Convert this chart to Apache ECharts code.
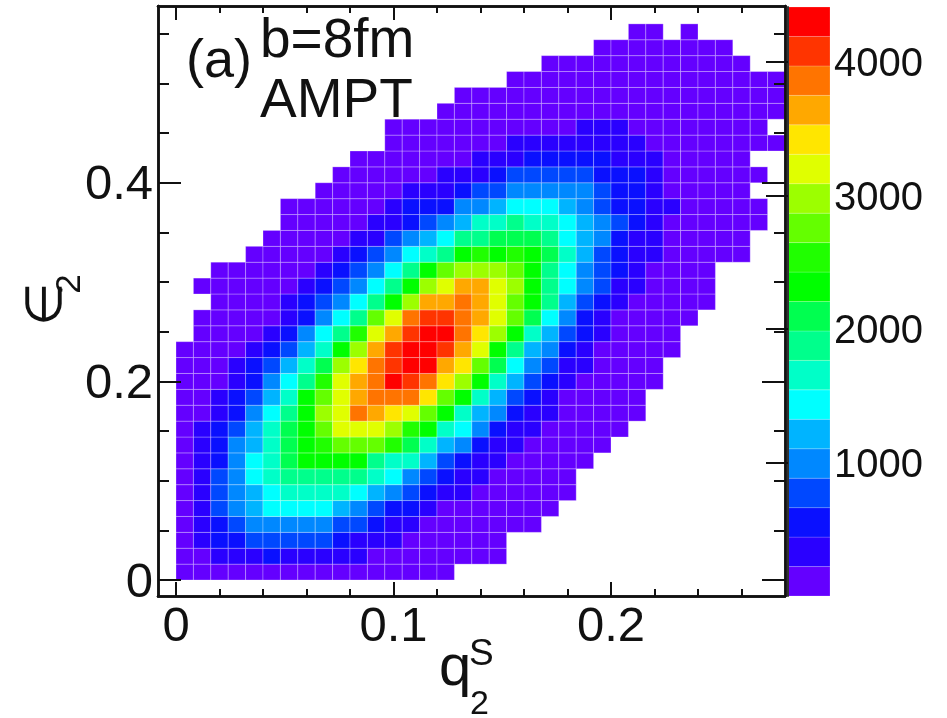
<!DOCTYPE html>
<html>
<head>
<meta charset="utf-8">
<title>AMPT b=8fm</title>
<script src="https://cdn.jsdelivr.net/npm/echarts@6/dist/echarts.min.js"></script>
<style>
    html, body { margin: 0; padding: 0; background: #fff; }
    #chart { width: 947px; height: 718px; filter: blur(0.5px); }
</style>
</head>
<body>
<div id="chart"></div>
<script>
// bins: 35 x 35 on q2S 0..0.28, e2 0..0.56
var binWidth = 0.008;
var binHeight = 0.016;
var levelStep = 220.7;

// colour palette, lowest count first
var levelColors = ['#6400ff', '#2a00ff', '#0a10ff', '#0048ff', '#0088ff', '#00b4ff', '#00ffff',
    '#00ffc8', '#00ff8c', '#00ff50', '#00ff00', '#20ff00', '#64ff00', '#9cff00', '#e0ff00',
    '#ffe600', '#ffa800', '#ff7400', '#ff3400', '#ff0000'];

// first filled column of every row, bottom row first
var rowStart = [0, 0, 0, 0, 0, 0, 0, 0, 0, 0, 0, 0, 0, 0, 0, 1, 1, 2, 1, 2, 4, 5, 6, 6, 8, 9, 10, 12, 12, 15, 16, 19, 21, 24, 26];

// colour level read for each cell, -1 is an empty bin
var rowLevels = [
    [0,0,0,0,0,0,0,0,0,0,0,0,0,0,0,0],
    [0,0,1,1,1,2,1,1,1,1,1,0,0,0,0,0,0,0,0],
    [0,1,2,2,3,3,3,3,3,2,1,1,1,0,0,0,0,0,0],
    [0,1,2,3,4,4,4,4,4,3,3,2,1,1,0,0,0,0,0,0,0],
    [0,1,3,4,5,6,6,6,6,5,4,3,2,2,1,0,0,0,0,0,0,0],
    [0,1,3,4,5,6,7,7,7,7,6,5,4,3,2,1,1,0,0,0,0,0,0],
    [0,1,3,4,6,7,8,8,8,8,8,7,6,4,3,2,1,1,0,0,0,0,0],
    [0,1,2,4,6,7,9,10,10,10,10,8,7,7,5,3,2,1,1,0,0,0,0,0],
    [0,1,2,4,5,7,9,10,11,12,12,12,11,9,7,5,4,2,1,1,0,0,0,0,0],
    [0,1,2,3,5,7,9,10,12,14,14,14,13,11,10,7,6,4,2,1,1,0,0,0,0,0],
    [0,0,1,2,4,6,8,10,13,14,17,16,15,14,12,10,7,5,4,2,1,1,0,0,0,0,0],
    [0,0,1,2,3,5,7,10,12,14,16,17,17,17,15,12,10,7,5,3,2,1,0,0,0,0,0],
    [0,0,0,1,2,4,6,8,11,14,16,17,19,18,17,15,13,10,7,5,3,2,1,0,0,0,0,0],
    [0,0,0,1,2,3,5,7,9,13,15,17,18,19,19,16,15,12,9,6,4,3,1,1,0,0,0,0],
    [0,0,0,0,1,2,3,5,7,10,13,16,18,19,19,18,16,14,10,8,5,4,2,1,0,0,0,0,0],
    [0,0,0,0,1,2,4,6,8,11,14,16,18,19,19,17,15,13,10,7,5,3,2,1,0,0,0,0],
    [0,0,0,0,0,1,2,4,6,8,12,14,17,18,18,17,16,14,12,9,6,4,2,1,0,0,0,0,0],
    [0,0,0,0,1,2,3,4,6,8,10,13,16,16,17,16,14,12,10,8,5,3,2,1,0,0,0,0,0],
    [0,0,0,0,0,0,1,2,3,4,6,8,10,13,14,16,16,14,13,10,8,6,4,3,1,1,0,0,0,0],
    [0,0,0,0,0,0,1,2,3,4,6,8,10,12,13,13,13,12,10,8,6,4,3,2,1,0,0,0,0],
    [0,0,0,0,0,1,2,3,4,6,7,8,10,11,10,11,10,9,7,5,3,2,1,1,0,0,0,0,0],
    [0,0,0,0,0,1,1,3,4,5,6,8,8,9,9,9,8,6,5,4,2,1,1,0,0,0,0,0],
    [0,0,0,0,0,1,1,2,3,4,5,7,7,8,7,7,6,5,4,3,2,1,0,0,0,0,0,0],
    [0,0,0,0,0,0,1,2,2,2,4,4,5,6,6,6,5,4,3,2,2,1,1,0,0,0,0,0],
    [0,0,0,0,0,1,1,1,2,3,3,4,4,4,4,4,3,2,2,1,0,0,0,0,0],
    [0,0,0,0,0,0,1,1,1,2,3,3,3,3,3,2,2,2,1,0,0,0,0,0,0],
    [0,0,0,0,0,0,0,1,1,1,2,2,2,2,2,1,1,1,0,0,0,0,0],
    [0,0,0,0,0,0,0,1,1,1,1,1,1,1,1,0,0,0,0,0,0,0,0],
    [0,0,0,0,0,0,0,0,0,0,0,1,1,1,0,0,0,0,0,0,0,0],
    [0,0,0,0,0,0,0,0,0,0,0,0,0,0,0,0,0,0,0,0],
    [0,0,0,0,0,0,0,0,0,0,0,0,0,0,0,0,0,0,0],
    [0,0,0,0,0,0,0,0,0,0,0,0,0,0,0,0],
    [0,0,0,0,0,0,0,0,0,0,0,0],
    [0,0,0,0,0,0,0,0],
    [0,0,-1,0]
];

// tick positions
var xMajorTicks = [0, 0.1, 0.2];
var xMinorTicks = [0.02, 0.04, 0.06, 0.08, 0.12, 0.14, 0.16, 0.18, 0.22, 0.24, 0.26];
var yMajorTicks = [0, 0.2, 0.4];
var yMinorTicks = [0.05, 0.1, 0.15, 0.25, 0.3, 0.35, 0.45, 0.5, 0.55];
var colorBarTicks = [1000, 2000, 3000, 4000];

var font = '"Liberation Sans", Arial, sans-serif';
var ink = '#111';

// cell data [x, y, count]
var cells = [];
rowLevels.forEach(function (levels, row) {
    levels.forEach(function (level, i) {
        if (level < 0) return;
        cells.push([(rowStart[row] + i) * binWidth, row * binHeight, (level + 0.5) * levelStep]);
    });
});

// colour bar data [x, low edge, middle]
var barCells = levelColors.map(function (color, i) {
    return [0, i * levelStep, (i + 0.5) * levelStep];
});

var pieces = levelColors.map(function (color, i) {
    return { min: i * levelStep, max: (i + 1) * levelStep, color: color };
});

function boxItem(params, api, x0, y0, x1, y1, line) {
    var a = api.coord([x0, y0]);
    var b = api.coord([x1, y1]);
    return {
        type: 'rect',
        shape: { x: a[0], y: b[1], width: b[0] - a[0], height: a[1] - b[1] },
        style: { fill: api.visual('color'), stroke: line, lineWidth: 1 }
    };
}

function renderCell(params, api) {
    var x = api.value(0), y = api.value(1);
    return boxItem(params, api, x, y, x + binWidth, y + binHeight, 'rgba(255,255,255,0.27)');
}

function renderBar(params, api) {
    var y = api.value(1);
    return boxItem(params, api, 0, y, 1, y + levelStep, 'rgba(255,255,255,0.18)');
}

// every side of the frame gets two axes: long ticks and short ticks
function frameAxis(base, position, ticks, tickLen, extra) {
    var axis = {
        type: 'value',
        position: position,
        min: base.min,
        max: base.max,
        gridIndex: 0,
        z: 10,
        splitLine: { show: false },
        axisLine: { show: true, onZero: false, lineStyle: { color: ink, width: 2.5 } },
        axisTick: { show: true, inside: true, length: tickLen, customValues: ticks, lineStyle: { color: ink, width: 2 } },
        axisLabel: { show: false }
    };
    return Object.assign(axis, extra || {});
}

var xRange = { min: -0.00828, max: 0.28 };
var yRange = { min: -0.0161, max: 0.578 };

function tickLabel(values, margin, extra) {
    return Object.assign({
        show: true,
        customValues: values,
        margin: margin,
        color: ink,
        fontFamily: font,
        fontSize: 49,
        formatter: function (v) { return String(v); }
    }, extra || {});
}

var option = {
    animation: false,
    backgroundColor: '#fff',
    grid: [
        { left: 158, top: 6, width: 627, height: 590 },
        { left: 788, top: 7, width: 42, height: 589 }
    ],
    xAxis: [
        frameAxis(xRange, 'bottom', xMajorTicks, 14, { axisLabel: tickLabel(xMajorTicks, 7) }),
        frameAxis(xRange, 'bottom', xMinorTicks, 7),
        frameAxis(xRange, 'top', xMajorTicks, 14),
        frameAxis(xRange, 'top', xMinorTicks, 7),
        { type: 'value', gridIndex: 1, min: 0, max: 1, show: false }
    ],
    yAxis: [
        // short line box with top alignment drops the digits a little below the tick
        frameAxis(yRange, 'left', yMajorTicks, 23, { axisLabel: tickLabel(yMajorTicks, 5, { verticalAlign: 'top', lineHeight: 6 }) }),
        frameAxis(yRange, 'left', yMinorTicks, 11),
        frameAxis(yRange, 'right', yMajorTicks, 23),
        frameAxis(yRange, 'right', yMinorTicks, 11),
        {
            type: 'value',
            gridIndex: 1,
            position: 'right',
            min: 0,
            max: 4414,
            z: 10,
            splitLine: { show: false },
            axisLine: { show: true, lineStyle: { color: '#333', width: 2 } },
            axisTick: { show: true, inside: true, length: 22, customValues: colorBarTicks, lineStyle: { color: ink, width: 2 } },
            axisLabel: tickLabel(colorBarTicks, 4, { fontSize: 40, verticalAlign: 'top', lineHeight: 6 })
        }
    ],
    visualMap: {
        show: false,
        type: 'piecewise',
        dimension: 2,
        seriesIndex: [0, 1],
        pieces: pieces
    },
    series: [
        {
            type: 'custom',
            xAxisIndex: 0,
            yAxisIndex: 0,
            renderItem: renderCell,
            data: cells
        },
        {
            type: 'custom',
            xAxisIndex: 4,
            yAxisIndex: 4,
            renderItem: renderBar,
            data: barCells
        }
    ],
    graphic: [
        { type: 'text', z: 100, x: 186, y: 62, style: { text: '(a)', font: '54px ' + font, fill: ink, verticalAlign: 'middle' } },
        { type: 'text', z: 100, x: 260, y: 42, style: { text: 'b=8fm', font: '55px ' + font, fill: ink, verticalAlign: 'middle' } },
        { type: 'text', z: 100, x: 260, y: 102, style: { text: 'AMPT', font: '55px ' + font, fill: ink, verticalAlign: 'middle' } },
        { type: 'text', z: 100, x: 439, y: 669, style: { text: 'q', font: '58px ' + font, fill: ink, verticalAlign: 'middle' } },
        { type: 'text', z: 100, x: 469, y: 655, style: { text: 'S', font: '37px ' + font, fill: ink, verticalAlign: 'middle' } },
        { type: 'text', z: 100, x: 470, y: 705, style: { text: '2', font: '34px ' + font, fill: ink, verticalAlign: 'middle' } },
        { type: 'text', z: 100, x: 48, y: 304, rotation: Math.PI / 2, style: { text: '\u2208', font: '50px "DejaVu Sans", sans-serif', fill: ink, align: 'center', verticalAlign: 'middle' } },
        { type: 'text', z: 100, x: 70, y: 284, rotation: Math.PI / 2, style: { text: '2', font: '35px ' + font, fill: ink, align: 'center', verticalAlign: 'middle' } }
    ]
};

var chart = echarts.init(document.getElementById('chart'));
chart.setOption(option);
</script>
</body>
</html>
